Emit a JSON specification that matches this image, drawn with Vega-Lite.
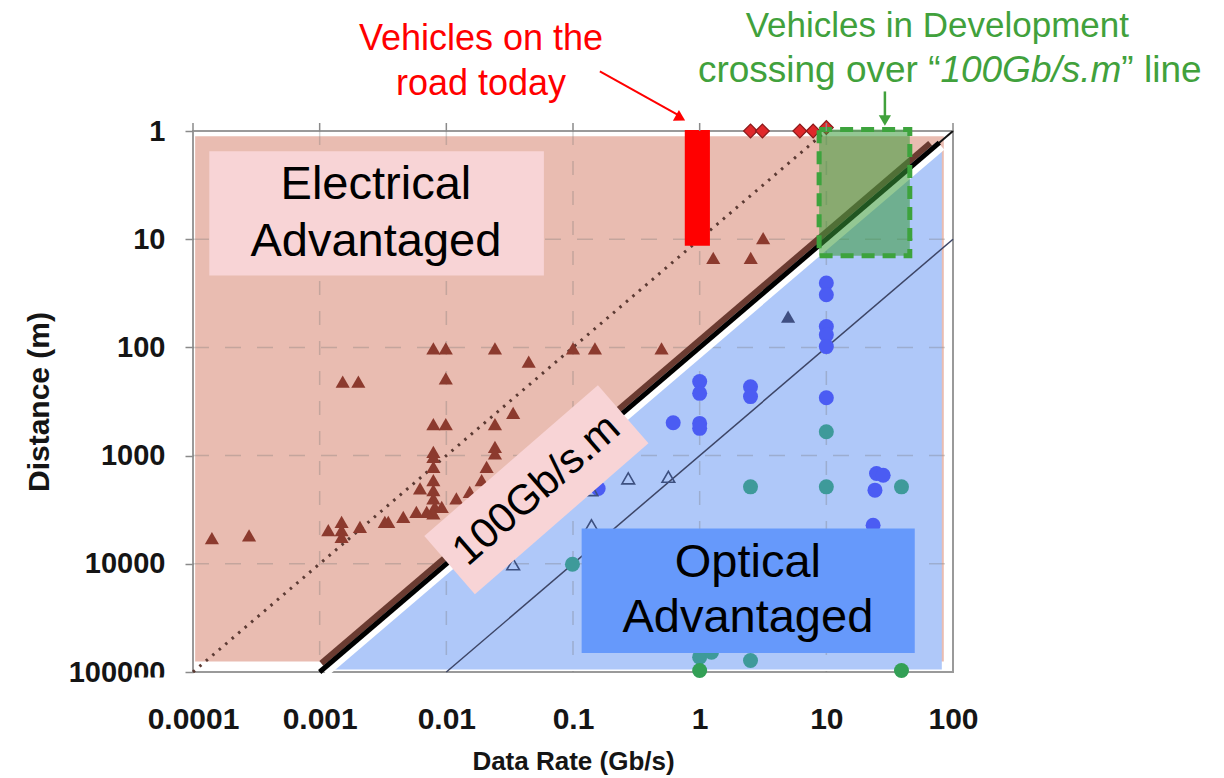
{
  "$schema": "https://vega.github.io/schema/vega-lite/v6.json",
  "width": 760,
  "height": 541,
  "autosize": {"type": "none"},
  "padding": {"left": 193, "top": 131, "right": 271, "bottom": 106},
  "background": "white",
  "config": {
    "view": {"stroke": "#9a9a9a", "strokeWidth": 2},
    "font": "Liberation Sans"
  },
  "resolve": {"scale": {"color": "independent"}},
  "datasets": {
    "bgElectrical": [{"rate": 0.000104, "rate2": 84.6, "dist": 1.12, "dist2": 80000}],
    "bgOptical": [
      {"rate": 0.00129, "dist": 95000, "dist2": 95000},
      {"rate": 81.6, "dist": 1.52, "dist2": 95000}
    ],
    "gridV": [
      {"rate": 0.001, "dist": 1, "dist2": 100000},
      {"rate": 0.01, "dist": 1, "dist2": 100000},
      {"rate": 0.1, "dist": 1, "dist2": 100000},
      {"rate": 1, "dist": 1, "dist2": 100000},
      {"rate": 10, "dist": 1, "dist2": 100000}
    ],
    "gridH": [
      {"rate": 0.0001, "rate2": 100, "dist": 10},
      {"rate": 0.0001, "rate2": 100, "dist": 100},
      {"rate": 0.0001, "rate2": 100, "dist": 1000},
      {"rate": 0.0001, "rate2": 100, "dist": 10000}
    ],
    "line10": [{"rate": 0.0001, "dist": 100000}, {"rate": 10, "dist": 1}],
    "line1000": [{"rate": 0.01, "dist": 100000}, {"rate": 100, "dist": 10}],
    "edgeWhite": [{"rate": 0.00109, "dist": 99700}, {"rate": 80, "dist": 1.36}],
    "edgeBrown": [{"rate": 0.00103, "dist": 83200}, {"rate": 66, "dist": 1.3}],
    "line100": [{"rate": 0.001, "dist": 100000}, {"rate": 78, "dist": 1.282}],
    "line100full": [{"rate": 0.001, "dist": 100000}, {"rate": 100, "dist": 1}],
    "electrical": [
      {"rate": 0.000141, "dist": 5800, "class": "copper"},
      {"rate": 0.000277, "dist": 5450, "class": "copper"},
      {"rate": 0.00152, "dist": 207, "class": "copper"},
      {"rate": 0.00202, "dist": 207, "class": "copper"},
      {"rate": 0.0079, "dist": 102, "class": "copper"},
      {"rate": 0.0099, "dist": 102, "class": "copper"},
      {"rate": 0.0242, "dist": 102, "class": "copper"},
      {"rate": 0.0447, "dist": 135, "class": "copper"},
      {"rate": 0.0099, "dist": 193, "class": "copper"},
      {"rate": 0.0079, "dist": 511, "class": "copper"},
      {"rate": 0.0099, "dist": 511, "class": "copper"},
      {"rate": 0.0242, "dist": 511, "class": "copper"},
      {"rate": 0.0337, "dist": 402, "class": "copper"},
      {"rate": 0.0242, "dist": 829, "class": "copper"},
      {"rate": 0.0242, "dist": 955, "class": "copper"},
      {"rate": 0.0079, "dist": 922, "class": "copper"},
      {"rate": 0.0079, "dist": 1028, "class": "copper"},
      {"rate": 0.0079, "dist": 1270, "class": "copper"},
      {"rate": 0.0079, "dist": 1686, "class": "copper"},
      {"rate": 0.0079, "dist": 2086, "class": "copper"},
      {"rate": 0.0079, "dist": 2490, "class": "copper"},
      {"rate": 0.0081, "dist": 2979, "class": "copper"},
      {"rate": 0.0079, "dist": 3428, "class": "copper"},
      {"rate": 0.0062, "dist": 2013, "class": "copper"},
      {"rate": 0.0092, "dist": 2979, "class": "copper"},
      {"rate": 0.007, "dist": 3314, "class": "copper"},
      {"rate": 0.0058, "dist": 3314, "class": "copper"},
      {"rate": 0.00457, "dist": 3690, "class": "copper"},
      {"rate": 0.00348, "dist": 4100, "class": "copper"},
      {"rate": 0.00327, "dist": 4100, "class": "copper"},
      {"rate": 0.00208, "dist": 4560, "class": "copper"},
      {"rate": 0.00149, "dist": 4100, "class": "copper"},
      {"rate": 0.00149, "dist": 4895, "class": "copper"},
      {"rate": 0.00117, "dist": 4895, "class": "copper"},
      {"rate": 0.00149, "dist": 5650, "class": "copper"},
      {"rate": 0.012, "dist": 2490, "class": "copper"},
      {"rate": 0.0153, "dist": 2163, "class": "copper"},
      {"rate": 0.019, "dist": 1686, "class": "copper"},
      {"rate": 0.0208, "dist": 1270, "class": "copper"},
      {"rate": 0.1, "dist": 102, "class": "copper"},
      {"rate": 0.149, "dist": 102, "class": "copper"},
      {"rate": 0.5, "dist": 102, "class": "copper"},
      {"rate": 1.28, "dist": 14.9, "class": "copper"},
      {"rate": 2.53, "dist": 14.9, "class": "copper"},
      {"rate": 3.17, "dist": 9.75, "class": "copper"},
      {"rate": 4.99, "dist": 51.9, "class": "copper-hs"}
    ],
    "fiber": [
      {"rate": 10, "dist": 25.4, "class": "glass"},
      {"rate": 10, "dist": 32.6, "class": "glass"},
      {"rate": 10, "dist": 64.2, "class": "glass"},
      {"rate": 10, "dist": 76.6, "class": "glass"},
      {"rate": 10, "dist": 98.3, "class": "glass"},
      {"rate": 1, "dist": 207, "class": "glass"},
      {"rate": 1, "dist": 266, "class": "glass"},
      {"rate": 2.52, "dist": 231, "class": "glass"},
      {"rate": 2.52, "dist": 285, "class": "glass"},
      {"rate": 10, "dist": 292, "class": "glass"},
      {"rate": 0.618, "dist": 497, "class": "glass"},
      {"rate": 1, "dist": 504, "class": "glass"},
      {"rate": 1, "dist": 560, "class": "glass"},
      {"rate": 0.158, "dist": 2013, "class": "glass"},
      {"rate": 24.9, "dist": 1462, "class": "glass"},
      {"rate": 28.1, "dist": 1517, "class": "glass"},
      {"rate": 24.2, "dist": 2086, "class": "glass"},
      {"rate": 23.4, "dist": 4400, "class": "glass"},
      {"rate": 10, "dist": 602, "class": "plastic"},
      {"rate": 2.52, "dist": 1944, "class": "plastic"},
      {"rate": 10, "dist": 1944, "class": "plastic"},
      {"rate": 39.2, "dist": 1944, "class": "plastic"},
      {"rate": 0.099, "dist": 10100, "class": "plastic"},
      {"rate": 1, "dist": 72900, "class": "plastic"},
      {"rate": 1.24, "dist": 65600, "class": "plastic"},
      {"rate": 2.52, "dist": 78300, "class": "plastic"},
      {"rate": 1, "dist": 96800, "class": "plastic-lr"},
      {"rate": 39.2, "dist": 96800, "class": "plastic-lr"}
    ],
    "hollow": [
      {"rate": 0.273, "dist": 1626},
      {"rate": 0.566, "dist": 1571},
      {"rate": 0.14, "dist": 2086},
      {"rate": 0.14, "dist": 4400},
      {"rate": 0.0337, "dist": 10100}
    ],
    "onRoad": [
      {"rate": 2.52, "dist": 1},
      {"rate": 3.13, "dist": 1},
      {"rate": 6.18, "dist": 1},
      {"rate": 7.87, "dist": 1},
      {"rate": 10, "dist": 0.93}
    ],
    "todayBar": [{"rate": 0.763, "rate2": 1.205, "dist": 0.98, "dist2": 11.5}],
    "devBox": [{"rate": 8.77, "rate2": 45.6, "dist": 0.97, "dist2": 14.2}],
    "elecBox": [{"rate": 0.0001345, "rate2": 0.0589, "dist": 1.54, "dist2": 21.6}],
    "optBox": [{"rate": 0.117, "rate2": 49.9, "dist": 4720, "dist2": 66900}],
    "rotBox": [{"rate": 0.0514, "dist": 2065, "label": "100Gb/s.m"}],
    "elecText": [
      {"rate": 0.00278, "dist": 4.24, "label": "Electrical"},
      {"rate": 0.00278, "dist": 14.4, "label": "Advantaged"}
    ],
    "optText": [
      {"rate": 2.4, "dist": 13250, "label": "Optical"},
      {"rate": 2.4, "dist": 42800, "label": "Advantaged"}
    ],
    "redText": [
      {"rate": 0.0188, "dist": 0.18, "label": "Vehicles on the"},
      {"rate": 0.0188, "dist": 0.469, "label": "road today"}
    ],
    "greenText1": [{"rate": 75.2, "dist": 0.136, "label": "Vehicles in Development"}],
    "greenText2": [
      {"rate": 0.968, "dist": 0.356, "label": "crossing over “"},
      {"rate": 2133, "dist": 0.356, "label": "” line"}
    ],
    "greenItalic": [{"rate": 79.5, "dist": 0.356, "label": "100Gb/s.m"}],
    "redArrow": [{"rate": 0.163, "dist": 0.281, "rate2": 0.69, "dist2": 0.72}],
    "redHead": [{"rate": 0.706, "dist": 0.758}],
    "greenArrow": [{"rate": 29, "dist": 0.431, "dist2": 0.78}],
    "greenHead": [{"rate": 29, "dist": 0.8}],
    "labelMask": [{"rate": 0.0000324, "rate2": 0.000098, "dist": 112500, "dist2": 176000}],
    "topTicks": [
      {"rate": 0.0001, "dist": 1, "dist2": 0.843},
      {"rate": 0.001, "dist": 1, "dist2": 0.843},
      {"rate": 0.01, "dist": 1, "dist2": 0.843},
      {"rate": 0.1, "dist": 1, "dist2": 0.843},
      {"rate": 1, "dist": 1, "dist2": 0.843},
      {"rate": 10, "dist": 1, "dist2": 0.843},
      {"rate": 100, "dist": 1, "dist2": 0.843}
    ]
  },
  "encoding": {
    "x": {
      "field": "rate",
      "type": "quantitative",
      "scale": {"type": "log", "domain": [0.0001, 100], "nice": false},
      "axis": {
        "orient": "bottom",
        "values": [0.0001, 0.001, 0.01, 0.1, 1, 10, 100],
        "format": "~f",
        "ticks": false,
        "tickSize": 0,
        "domain": false,
        "grid": false,
        "labelFont": "Liberation Sans",
        "labelFontWeight": "bold",
        "labelFontSize": 30,
        "labelColor": "#151515",
        "labelPadding": 32,
        "labelFlush": false,
        "labelOverlap": false,
        "title": "Data Rate (Gb/s)",
        "titleFont": "Liberation Sans",
        "titleFontSize": 26,
        "titleFontWeight": "bold",
        "titleColor": "#151515",
        "titlePadding": 14
      }
    },
    "y": {
      "field": "dist",
      "type": "quantitative",
      "scale": {"type": "log", "domain": [1, 100000], "nice": false, "reverse": true},
      "axis": {
        "orient": "left",
        "values": [1, 10, 100, 1000, 10000, 100000],
        "format": "d",
        "ticks": true,
        "tickSize": 8,
        "tickColor": "#8a8a8a",
        "tickWidth": 1.5,
        "domain": false,
        "grid": false,
        "labelFont": "Liberation Sans",
        "labelFontWeight": "bold",
        "labelFontSize": 29,
        "labelColor": "#151515",
        "labelPadding": 20,
        "labelFlush": false,
        "labelOverlap": false,
        "labelBaseline": "middle",
        "title": "Distance (m)",
        "titleFont": "Liberation Sans",
        "titleFontSize": 30,
        "titleFontWeight": "bold",
        "titleColor": "#151515",
        "titlePadding": 14
      }
    }
  },
  "layer": [
    {
      "data": {"name": "bgElectrical"},
      "mark": {"type": "rect", "fill": "#e9bcb1", "stroke": null},
      "encoding": {"x2": {"field": "rate2"}, "y2": {"field": "dist2"}}
    },
    {
      "data": {"name": "bgOptical"},
      "mark": {"type": "area", "fill": "#afc8f9", "opacity": 1},
      "encoding": {"y2": {"field": "dist2"}}
    },
    {
      "data": {"name": "gridV"},
      "mark": {"type": "rule", "stroke": "#6f6f6f", "strokeOpacity": 0.3, "strokeWidth": 1.5, "strokeDash": [14, 16]},
      "encoding": {"y2": {"field": "dist2"}}
    },
    {
      "data": {"name": "gridH"},
      "mark": {"type": "rule", "stroke": "#6f6f6f", "strokeOpacity": 0.3, "strokeWidth": 1.5, "strokeDash": [16, 16]},
      "encoding": {"x2": {"field": "rate2"}}
    },
    {
      "data": {"name": "line10"},
      "mark": {"type": "line", "stroke": "#5b3a33", "strokeWidth": 3, "strokeDash": [2.5, 6]},
      "encoding": {}
    },
    {
      "data": {"name": "line1000"},
      "mark": {"type": "line", "stroke": "#3d4566", "strokeWidth": 1.5},
      "encoding": {}
    },
    {
      "data": {"name": "edgeWhite"},
      "mark": {"type": "line", "stroke": "#ffffff", "strokeWidth": 11, "strokeCap": "butt"},
      "encoding": {}
    },
    {
      "data": {"name": "edgeBrown"},
      "mark": {"type": "line", "stroke": "#6b3b31", "strokeWidth": 6, "strokeCap": "butt"},
      "encoding": {}
    },
    {
      "data": {"name": "line100full"},
      "mark": {"type": "line", "stroke": "#111111", "strokeWidth": 2},
      "encoding": {}
    },
    {
      "data": {"name": "line100"},
      "mark": {"type": "line", "stroke": "#000000", "strokeWidth": 5, "strokeCap": "butt"},
      "encoding": {}
    },
    {
      "data": {"name": "electrical"},
      "mark": {"type": "point", "shape": "triangle-up", "filled": true, "opacity": 1, "size": 200},
      "encoding": {
        "color": {
          "field": "class",
          "type": "nominal",
          "scale": {"domain": ["copper", "copper-hs"], "range": ["#8c3a2e", "#3f4f82"]},
          "legend": null
        }
      }
    },
    {
      "data": {"name": "fiber"},
      "mark": {"type": "point", "shape": "circle", "filled": true, "opacity": 1, "size": 225},
      "encoding": {
        "color": {
          "field": "class",
          "type": "nominal",
          "scale": {"domain": ["glass", "plastic", "plastic-lr"], "range": ["#4b5cf3", "#3e9a9a", "#33a056"]},
          "legend": null
        }
      }
    },
    {
      "data": {"name": "hollow"},
      "mark": {"type": "point", "shape": "triangle-up", "filled": false, "opacity": 1, "size": 160, "stroke": "#3d5080", "strokeWidth": 1.6},
      "encoding": {}
    },
    {
      "data": {"name": "onRoad"},
      "mark": {"type": "point", "shape": "diamond", "filled": true, "opacity": 1, "size": 190, "fill": "#e0282a", "stroke": "#8b1a1a", "strokeWidth": 1.2},
      "encoding": {}
    },
    {
      "data": {"name": "todayBar"},
      "mark": {"type": "rect", "fill": "#ff0000", "stroke": null},
      "encoding": {"x2": {"field": "rate2"}, "y2": {"field": "dist2"}}
    },
    {
      "data": {"name": "devBox"},
      "mark": {"type": "rect", "fill": "#3a9a3a", "fillOpacity": 0.55, "stroke": "#3da33d", "strokeOpacity": 1, "strokeWidth": 5, "strokeDash": [13, 8]},
      "encoding": {"x2": {"field": "rate2"}, "y2": {"field": "dist2"}}
    },
    {
      "data": {"name": "elecBox"},
      "mark": {"type": "rect", "fill": "#f8d4d6", "stroke": null},
      "encoding": {"x2": {"field": "rate2"}, "y2": {"field": "dist2"}}
    },
    {
      "data": {"name": "optBox"},
      "mark": {"type": "rect", "fill": "#6699fb", "stroke": null},
      "encoding": {"x2": {"field": "rate2"}, "y2": {"field": "dist2"}}
    },
    {
      "data": {"name": "rotBox"},
      "mark": {"type": "point", "shape": "M-1,-0.335L1,-0.335L1,0.335L-1,0.335Z", "size": 52900, "angle": -41, "filled": true, "opacity": 1, "fill": "#f8d4d6", "stroke": null},
      "encoding": {}
    },
    {
      "data": {"name": "rotBox"},
      "mark": {"type": "text", "font": "Liberation Sans", "fontSize": 42, "angle": -41, "align": "center", "baseline": "middle", "fill": "#000000"},
      "encoding": {"text": {"field": "label"}}
    },
    {
      "data": {"name": "elecText"},
      "mark": {"type": "text", "font": "Liberation Sans", "fontSize": 47, "align": "center", "baseline": "alphabetic", "fill": "#000000"},
      "encoding": {"text": {"field": "label"}}
    },
    {
      "data": {"name": "optText"},
      "mark": {"type": "text", "font": "Liberation Sans", "fontSize": 47, "align": "center", "baseline": "alphabetic", "fill": "#000000"},
      "encoding": {"text": {"field": "label"}}
    },
    {
      "data": {"name": "redText"},
      "mark": {"type": "text", "font": "Liberation Sans", "fontSize": 36, "align": "center", "baseline": "alphabetic", "fill": "#ff0000"},
      "encoding": {"text": {"field": "label"}}
    },
    {
      "data": {"name": "greenText1"},
      "mark": {"type": "text", "font": "Liberation Sans", "fontSize": 35, "align": "center", "baseline": "alphabetic", "fill": "#41a13c"},
      "encoding": {"text": {"field": "label"}}
    },
    {
      "data": {"name": "greenText2"},
      "mark": {"type": "text", "font": "Liberation Sans", "fontSize": 37, "align": "left", "baseline": "alphabetic", "fill": "#41a13c"},
      "encoding": {"text": {"field": "label"}}
    },
    {
      "data": {"name": "greenItalic"},
      "mark": {"type": "text", "font": "Liberation Sans", "fontSize": 37, "fontStyle": "italic", "align": "left", "baseline": "alphabetic", "fill": "#41a13c"},
      "encoding": {"text": {"field": "label"}}
    },
    {
      "data": {"name": "redArrow"},
      "mark": {"type": "rule", "stroke": "#ff0000", "strokeWidth": 2},
      "encoding": {"x2": {"field": "rate2"}, "y2": {"field": "dist2"}}
    },
    {
      "data": {"name": "redHead"},
      "mark": {"type": "point", "shape": "triangle-up", "angle": 119.5, "size": 150, "filled": true, "opacity": 1, "fill": "#ff0000", "stroke": null},
      "encoding": {}
    },
    {
      "data": {"name": "greenArrow"},
      "mark": {"type": "rule", "stroke": "#41a13c", "strokeWidth": 2.5},
      "encoding": {"y2": {"field": "dist2"}}
    },
    {
      "data": {"name": "greenHead"},
      "mark": {"type": "point", "shape": "triangle-down", "size": 150, "filled": true, "opacity": 1, "fill": "#41a13c", "stroke": null},
      "encoding": {}
    },
    {
      "data": {"name": "labelMask"},
      "mark": {"type": "rect", "fill": "#ffffff", "stroke": null},
      "encoding": {"x2": {"field": "rate2"}, "y2": {"field": "dist2"}}
    },
    {
      "data": {"name": "topTicks"},
      "mark": {"type": "rule", "stroke": "#8a8a8a", "strokeWidth": 1.5},
      "encoding": {"y2": {"field": "dist2"}}
    }
  ]
}
